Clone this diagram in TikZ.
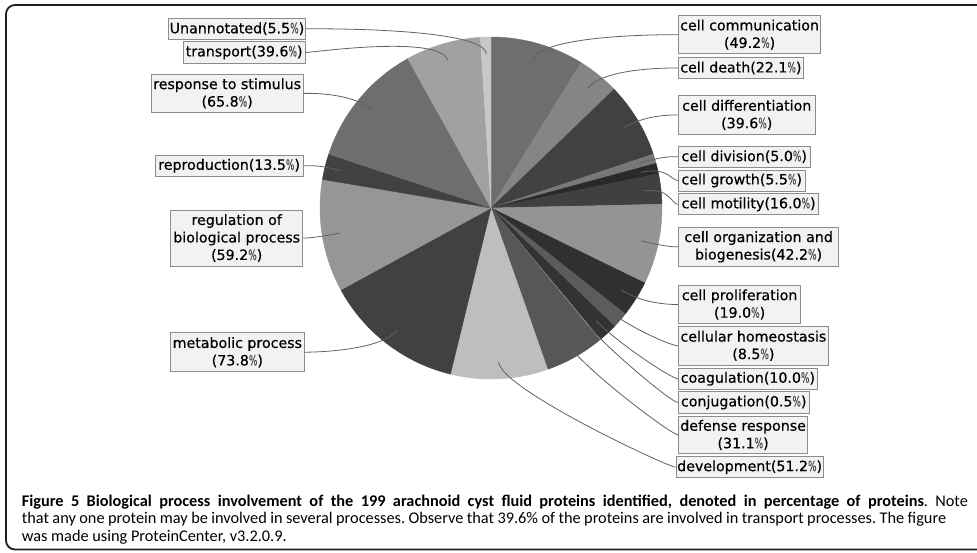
\documentclass[tikz,border=0pt]{standalone}
\usepackage{fontspec}
\usepackage{graphicx}
\setmainfont{DejaVu Sans}
\newfontfamily\lblfont[FakeBold=0.5]{DejaVu Sans}
\newfontfamily\capfont{Carlito}
\definecolor{s1}{gray}{0.43}
\definecolor{s2}{gray}{0.52}
\definecolor{s3}{gray}{0.255}
\definecolor{s4}{gray}{0.47}
\definecolor{s5}{gray}{0.16}
\definecolor{s6}{gray}{0.25}
\definecolor{s7}{gray}{0.58}
\definecolor{s8}{gray}{0.19}
\definecolor{s9}{gray}{0.36}
\definecolor{s10}{gray}{0.2}
\definecolor{s11}{gray}{0.6}
\definecolor{s12}{gray}{0.34}
\definecolor{s13}{gray}{0.745}
\definecolor{s14}{gray}{0.255}
\definecolor{s15}{gray}{0.59}
\definecolor{s16}{gray}{0.255}
\definecolor{s17}{gray}{0.43}
\definecolor{s18}{gray}{0.63}
\definecolor{s19}{gray}{0.78}
\newcommand\mypc{{\color{black!70}\scalebox{0.63}[1]{\%}}}
\newcommand\slice[3]{\filldraw[fill=#3,draw=#3,line width=0.4] (0,0) -- (#1:171) arc[start angle=#1, end angle=#2, radius=171] -- cycle;}
\frenchspacing
\begin{document}
\begin{tikzpicture}[x=1pt,y=1pt,
  lbl/.style={draw=black!45, fill=black!5, line width=0.8, inner sep=0, align=center, font=\lblfont\fontsize{14.2}{17.5}\selectfont, text=black},
  link/.style={draw=black!62, line width=0.8},
  captxt/.style={anchor=base west, inner sep=0, font=\capfont\fontsize{16.3}{17}\selectfont\frenchspacing}]
\useasboundingbox (0,0) rectangle (977,-552);
\clip (0,0) rectangle (977,-552);
\fill[white] (0,0) rectangle (977,-552);
\draw[line width=1.8, black!88, rounded corners=9] (6,-5) rectangle (995,-549.5);
% pie
\begin{scope}[shift={(491,-208)}]
\slice{90}{58.218}{s1}
\slice{58.218}{43.942}{s2}
\slice{43.942}{18.362}{s3}
\slice{18.362}{15.132}{s4}
\slice{15.132}{11.579}{s5}
\slice{11.579}{1.244}{s6}
\slice{1.244}{-26.017}{s7}
\slice{-26.017}{-38.290}{s8}
\slice{-38.290}{-43.781}{s9}
\slice{-43.781}{-50.241}{s10}
\slice{-50.241}{-50.564}{s11}
\slice{-50.564}{-70.654}{s12}
\slice{-70.654}{-103.727}{s13}
\slice{-103.727}{-151.400}{s14}
\slice{-151.400}{-189.641}{s15}
\slice{-189.641}{-198.362}{s16}
\slice{-198.362}{-240.867}{s17}
\slice{-240.867}{-266.447}{s18}
\slice{-266.447}{-270}{s19}
\foreach \n/\a in {1/74.109,2/51.080,3/31.152,4/16.747,5/13.355,6/6.411,7/-12.387,8/-32.154,9/-41.036,10/-47.011,11/-50.403,12/-60.609,13/-87.191,14/-127.564,15/-170.521,16/-194.002,17/-219.615,18/-253.657,19/-268.224}{
  \coordinate (l\n) at (\a:153.9);
  \coordinate (e\n) at (\a:181);
}
\end{scope}
% right labels
\node[lbl, minimum width=142.2, minimum height=38] (R1) at (749.6,-34.65) {cell communication\\(49.2\mypc)};
\node[lbl, minimum width=124.8, minimum height=21.4] (R2) at (740.9,-68) {cell death(22.1\mypc)};
\node[lbl, minimum width=136.5, minimum height=38.3] (R3) at (746.75,-115) {cell differentiation\\(39.6\mypc)};
\node[lbl, minimum width=131.5, minimum height=21.6] (R4) at (744.25,-156.7) {cell division(5.0\mypc)};
\node[lbl, minimum width=126.5, minimum height=21.2] (R5) at (741.75,-180.5) {cell growth(5.5\mypc)};
\node[lbl, minimum width=140.2, minimum height=21] (R6) at (748.6,-204.35) {cell motility(16.0\mypc)};
\node[lbl, minimum width=160.2, minimum height=38.3] (R7) at (758.6,-246.85) {cell organization and\\biogenesis(42.2\mypc)};
\node[lbl, minimum width=122.2, minimum height=37.8] (R8) at (739.6,-304.5) {cell proliferation\\(19.0\mypc)};
\node[lbl, minimum width=149.8, minimum height=38.3] (R9) at (753.4,-345.85) {cellular homeostasis\\(8.5\mypc)};
\node[lbl, minimum width=138.8, minimum height=21.2] (R10) at (747.9,-378.8) {coagulation(10.0\mypc)};
\node[lbl, minimum width=130.5, minimum height=21.4] (R11) at (743.75,-402.5) {conjugation(0.5\mypc)};
\node[lbl, minimum width=128.8, minimum height=37] (R12) at (743.1,-435) {defense response\\(31.1\mypc)};
\node[lbl, minimum width=147.3, minimum height=21.2] (R13) at (749.65,-467.2) {development(51.2\mypc)};
% left labels
\node[lbl, minimum width=137.4, minimum height=21.2] (L19) at (237,-28.8) {Unannotated(5.5\mypc)};
\node[lbl, minimum width=121.7, minimum height=21.4] (L18) at (244.15,-52.5) {transport(39.6\mypc)};
\node[lbl, minimum width=152.3, minimum height=38.5] (L17) at (227.15,-93.35) {response to stimulus\\(65.8\mypc)};
\node[lbl, minimum width=148.3, minimum height=21.5] (L16) at (229.15,-165.85) {reproduction(13.5\mypc)};
\node[lbl, minimum width=132, minimum height=56] (L15) at (236.7,-238) {regulation of\\biological process\\(59.2\mypc)};
\node[lbl, minimum width=133.3, minimum height=38.8] (L14) at (237.35,-352.2) {metabolic process\\(73.8\mypc)};
% links
\foreach \n in {1,...,13}{
  \draw[link] (R\n.west) .. controls +(-7,0) and (e\n) .. (l\n);
}
\foreach \n in {14,...,19}{
  \draw[link] (L\n.east) .. controls +(7,0) and (e\n) .. (l\n);
}
% caption
\node[captxt] (cap1) at (21.7,-506.5) {\makebox[946pt][s]{\textbf{Figure 5 Biological process involvement of the 199 arachnoid cyst fluid proteins identified, denoted in percentage of proteins}. Note}};
\node[captxt] (cap2) at (21.7,-523.8) {\makebox[924.3pt][s]{that any one protein may be involved in several processes. Observe that 39.6\% of the proteins are involved in transport processes. The figure}};
\node[captxt] (cap3) at (21.7,-541.1) {was made using ProteinCenter, v3.2.0.9.};
\end{tikzpicture}
\end{document}
